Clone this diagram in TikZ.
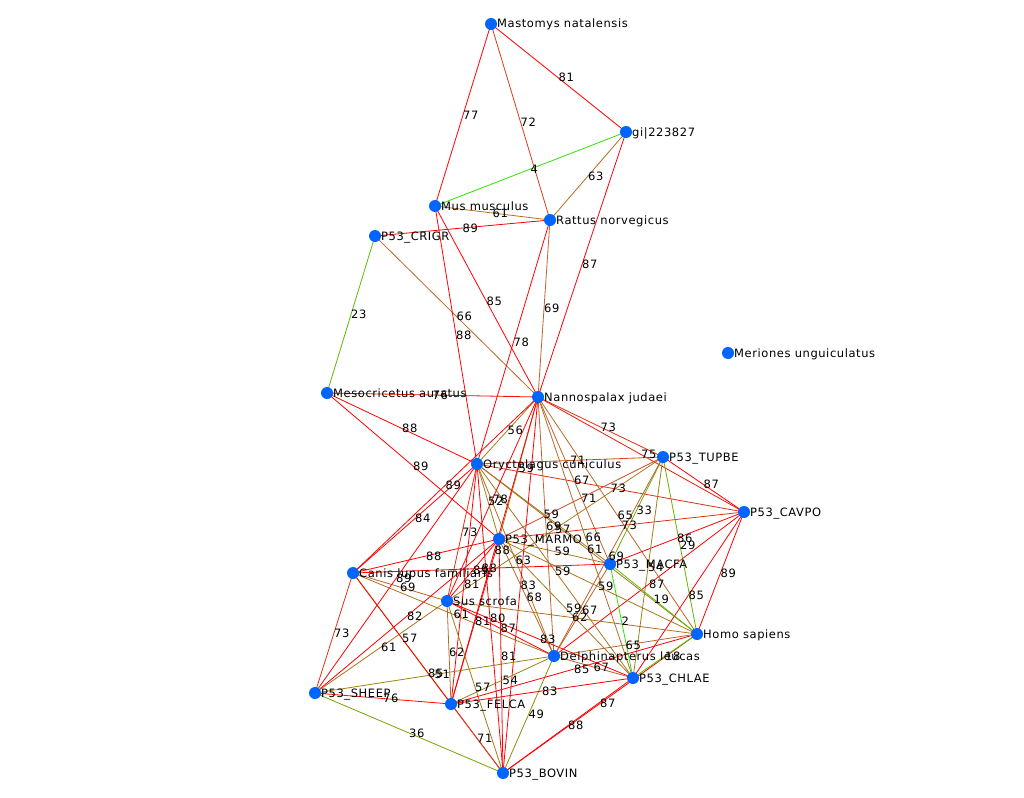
\documentclass[tikz,border=0pt]{standalone}
\usepackage{fontspec}
\newfontfamily\lblfont[LetterSpace=5]{DejaVu Sans}
\usetikzlibrary{calc,backgrounds}
\definecolor{nodeblue}{RGB}{0,100,255}
\def\edgelist{Mast/gi/81, Mast/Mus/77, Mast/Rat/72, Mus/gi/4, gi/Rat/63, Mus/Rat/61, Crigr/Rat/89, gi/Nan/87,
Crigr/Meso/23, Crigr/Nan/66, Mus/Ory/88, Mus/Nan/85, Rat/Nan/69, Rat/Ory/78, Meso/Nan/76, Meso/Ory/88,
Meso/Marmo/89, Nan/Ory/56, Nan/Tup/73, Nan/Cav/75, Ory/Tup/71, Nan/Marmo/59, Nan/Macfa/67, Ory/Cav/73,
Marmo/Tup/71, Ory/Macfa/59, Nan/Delph/69, Sus/Tup/57, Nan/Homo/65, Macfa/Tup/33, Marmo/Cav/73, Tup/Cav/87,
Nan/Chlae/66, Ory/Homo/61, Tup/Delph/69, Macfa/Cav/86, Tup/Homo/29, Tup/Chlae/54, Cav/Homo/89, Cav/Chlae/85,
Cav/Delph/87, Macfa/Homo/19, Macfa/Chlae/2, Marmo/Homo/59, Marmo/Macfa/59, Ory/Chlae/59, Ory/Delph/63,
Nan/Bovin/83, Marmo/Delph/68, Nan/Felca/88, Canis/Marmo/88, Ory/Sus/73, Ory/Canis/84, Canis/Nan/89,
Nan/Sus/78, Ory/Marmo/52, Canis/Sus/69, Ory/Sheep/89, Canis/Macfa/88, Marmo/Sus/89, Ory/Felca/81,
Sheep/Marmo/82, Canis/Felca/57, Sheep/Sus/61, Canis/Sheep/73, Sheep/Delph/51, Canis/Bovin/85, Sheep/Felca/76,
Sheep/Bovin/36, Sus/Felca/62, Canis/Delph/61, Marmo/Felca/81, Ory/Bovin/80, Sus/Delph/87, Marmo/Bovin/81,
Sus/Chlae/83, Marmo/Chlae/59, Sus/Homo/62, Macfa/Delph/67, Sus/Bovin/57, Felca/Delph/54, Delph/Bovin/49,
Felca/Bovin/71, Felca/Chlae/83, Bovin/Chlae/88, Bovin/Homo/87, Felca/Homo/85, Delph/Chlae/67, Delph/Homo/65,
Chlae/Homo/18}
\newcommand\pnode[4]{%
  \node[dot] (#1) at (#2,#3) {};
  \node[nlabel] (#1-t) at ([xshift=6pt,yshift=-4pt]#1.center) {#4};
}
\begin{document}
\begin{tikzpicture}[x=1pt,y=-1pt,
  dot/.style={circle,fill=nodeblue,minimum size=12pt,inner sep=0pt},
  nlabel/.style={font=\lblfont\fontsize{11.5}{13}\selectfont,inner sep=0pt,anchor=base west,text=black},
  elabel/.style={font=\lblfont\fontsize{11.5}{13}\selectfont,inner sep=0pt,anchor=base west,text=black,yshift=-4pt},
  edge/.style={line width=0.8pt}]
\useasboundingbox (0,0) rectangle (1024,797);
\pnode{Mast}{491}{24}{Mastomys natalensis}
\pnode{gi}{626}{132}{gi|223827}
\pnode{Mus}{435}{206}{Mus musculus}
\pnode{Rat}{550}{220}{Rattus norvegicus}
\pnode{Crigr}{375}{236}{P53\_CRIGR}
\pnode{Meso}{327}{393}{Mesocricetus auratus}
\pnode{Nan}{538}{397}{Nannospalax judaei}
\pnode{Mer}{728}{353}{Meriones unguiculatus}
\pnode{Ory}{477}{464}{Oryctolagus cuniculus}
\pnode{Tup}{663}{457}{P53\_TUPBE}
\pnode{Cav}{744}{512}{P53\_CAVPO}
\pnode{Marmo}{499}{539}{P53\_MARMO}
\pnode{Canis}{353}{573}{Canis lupus familiaris}
\pnode{Macfa}{610}{564}{P53\_MACFA}
\pnode{Sus}{447}{601}{Sus scrofa}
\pnode{Homo}{697}{634}{Homo sapiens}
\pnode{Delph}{554}{656}{Delphinapterus leucas}
\pnode{Chlae}{633}{678}{P53\_CHLAE}
\pnode{Sheep}{315}{693}{P53\_SHEEP}
\pnode{Felca}{451}{704}{P53\_FELCA}
\pnode{Bovin}{503}{773}{P53\_BOVIN}
\begin{pgfonlayer}{background}
\foreach \a/\b/\v in \edgelist {
  \pgfmathtruncatemacro\er{\v<70 ? 40+2.2*\v : (\v<77 ? 192+(\v-69)*8 : 255)}
  \pgfmathtruncatemacro\eg{\v<70 ? 235-2*\v : (\v<77 ? 97-(\v-69)*12 : 0)}
  \pgfmathtruncatemacro\eb{\v<70 ? max(0,1.5*(\v-40)) : (\v<77 ? 43-(\v-69)*6 : 0)}
  \definecolor{ecol}{RGB}{\er,\eg,\eb}
  \draw[edge,ecol] (\a.center) -- (\b.center);
}
\end{pgfonlayer}
\foreach \a/\b/\v in \edgelist {
  \node[elabel] at ($(\a.center)!0.5!(\b.center)$) {\v};
}
\end{tikzpicture}
\end{document}
